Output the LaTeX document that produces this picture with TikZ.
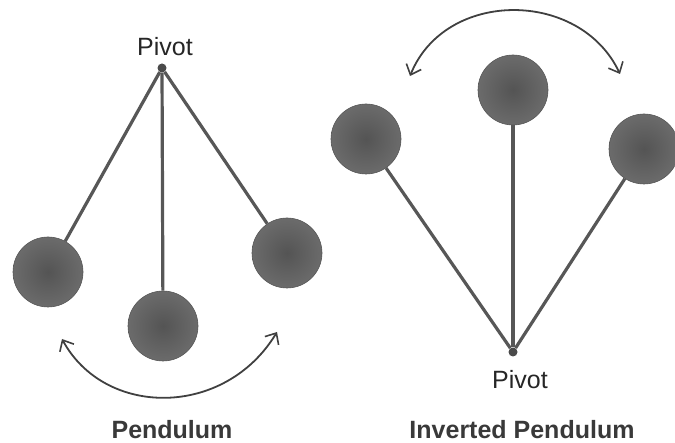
\documentclass[tikz,border=0pt]{standalone}
\usepackage{fontspec}
\setmainfont{Liberation Sans}
\usetikzlibrary{arrows.meta}
\definecolor{bobouter}{gray}{0.42}
\definecolor{bobinner}{gray}{0.33}
\definecolor{rodcol}{gray}{0.34}
\definecolor{swingcol}{gray}{0.25}
\tikzset{
  bob/.style={circle, minimum size=70pt, inner sep=0pt, draw=bobouter!80!black,
    line width=0.6pt, shading=radial, inner color=bobinner, outer color=bobouter},
  piv/.style={circle, minimum size=9pt, inner sep=0pt, fill=rodcol!85!black},
  rod/.style={draw=rodcol, line width=3.2pt},
  swing/.style={draw=swingcol, line width=1.8pt,
    {Straight Barb[length=9pt,width=16pt,line width=1.6pt]}-{Straight Barb[length=9pt,width=16pt,line width=1.6pt]}},
  txt/.style={font=\fontsize{25}{30}\selectfont, text=black!85, anchor=base, inner sep=0pt},
  title/.style={txt, font=\fontsize{25}{30}\selectfont\bfseries, text=gray!45!black}
}
\begin{document}
\begin{tikzpicture}[x=1pt,y=-1pt]
\useasboundingbox (0,0) rectangle (675,443);
% pendulum
\node[piv] (lpiv) at (162,68) {};
\node[txt] (lpivtxt) at (165,56) {Pivot};
\foreach \n/\x/\y in {lbobA/48/272, lbobB/163/326, lbobC/287/253} {
  \node[bob] (\n) at (\x,\y) {};
  \draw[rod] (lpiv) -- (\n);
}
\coordinate (lsA) at (62,339);
\coordinate (lsB) at (277,332);
\draw[swing] (lsA) .. controls (105,418) and (225,418) .. (lsB);
\node[title] (ltitle) at (172,439) {Pendulum};
% inverted pendulum
\node[piv] (rpiv) at (513,352) {};
\node[txt] (rpivtxt) at (520,389) {Pivot};
\foreach \n/\x/\y in {rbobA/366/139, rbobB/513/90, rbobC/644/149} {
  \node[bob] (\n) at (\x,\y) {};
  \draw[rod] (rpiv) -- (\n);
}
\coordinate (rsA) at (410,76);
\coordinate (rsB) at (620,74);
\draw[swing] (rsA) .. controls (445,-11) and (580,-11) .. (rsB);
\node[title] (rtitle) at (522,439) {Inverted Pendulum};
\end{tikzpicture}
\end{document}
